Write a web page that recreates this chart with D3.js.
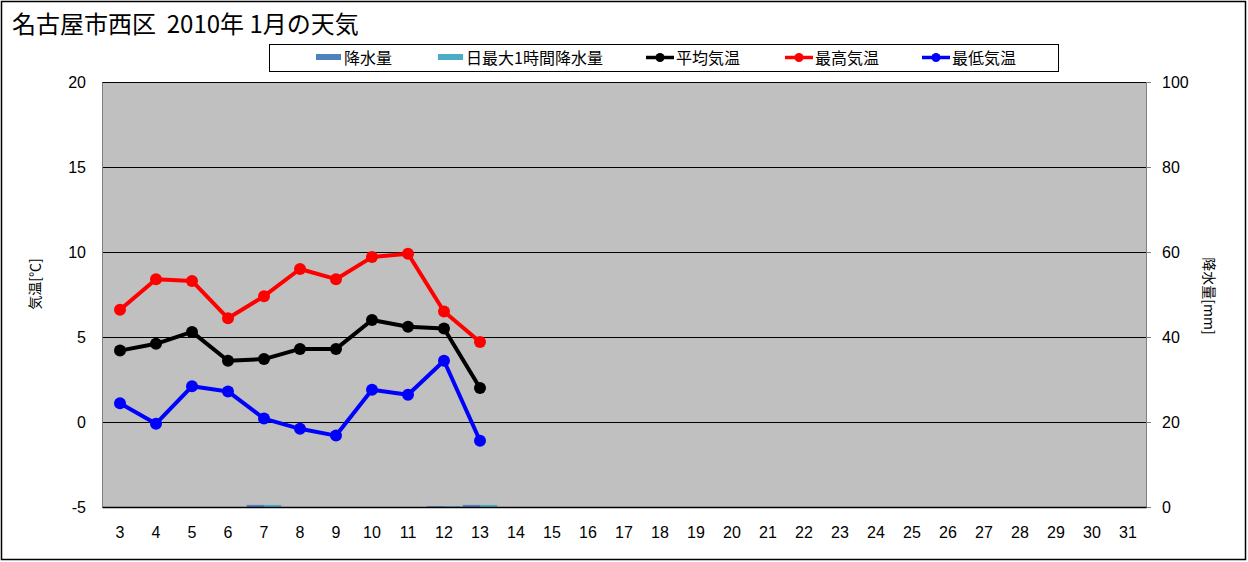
<!DOCTYPE html>
<html><head><meta charset="utf-8">
<script src="https://cdn.jsdelivr.net/npm/d3@7"></script>
<style>body{margin:0;background:#fff;}svg{display:block;font-family:"Liberation Sans",Arial,sans-serif;}</style>
</head><body>
<svg id="c" width="1248" height="562"></svg>
<script>
const days = d3.range(3, 32);
const dataDays = [3,4,5,6,7,8,9,10,11,12,13];
const tempAvg = [4.2,4.6,5.3,3.6,3.7,4.3,4.3,6.0,5.6,5.5,2.0];
const tempMax = [6.6,8.4,8.3,6.1,7.4,9.0,8.4,9.7,9.9,6.5,4.7];
const tempMin = [1.1,-0.1,2.1,1.8,0.2,-0.4,-0.8,1.9,1.6,3.6,-1.1];
const precip   = [0,0,0,0,0.5,0,0,0,0,0.2,0.5];
const precipMax1h = [0,0,0,0,0.5,0,0,0,0,0.2,0.5];
const leftTicks = [-5,0,5,10,15,20];
const rightTicks = [0,20,40,60,80,100];

const svg = d3.select("#c");
const L=102, R=1146, T=82, B=507;
const x = d3.scaleBand().domain(days).range([L,R]);
const yT = d3.scaleLinear().domain([-5,20]).range([B,T]);
const yP = d3.scaleLinear().domain([0,100]).range([B,T]);
const JP = "'Noto Sans CJK JP',sans-serif";

// outer frame
svg.append("rect").attr("x",1.5).attr("y",1.5).attr("width",1244).attr("height",558)
  .attr("fill","#fff").attr("stroke","#000").attr("stroke-width",1.5);

// plot bg
svg.append("rect").attr("x",L).attr("y",T).attr("width",R-L).attr("height",B-T).attr("fill","#c0c0c0");

// gridlines
svg.append("g").selectAll("line").data(leftTicks.filter(d=>d>-5)).join("line")
  .attr("x1",L).attr("x2",R).attr("y1",d=>Math.round(yT(d))+0.5).attr("y2",d=>Math.round(yT(d))+0.5)
  .attr("stroke","#000").attr("stroke-width",1);

// left axis
const gl = svg.append("g").attr("transform",`translate(${L},0)`)
  .call(d3.axisLeft(yT).tickValues(leftTicks).tickFormat(d=>String(d)).tickSize(0).tickPadding(16));
gl.select(".domain").attr("stroke","#808080");
gl.selectAll("text").attr("font-size",16).attr("fill","#000").attr("font-family","'Liberation Sans',Arial,sans-serif");

// right axis
const gr = svg.append("g").attr("transform",`translate(${R},0)`)
  .call(d3.axisRight(yP).tickValues(rightTicks).tickFormat(d=>String(d)).tickSize(5).tickPadding(11));
gr.select(".domain").attr("stroke","#808080");
gr.selectAll(".tick line").attr("stroke","#808080");
gr.selectAll("text").attr("font-size",16).attr("fill","#000").attr("font-family","'Liberation Sans',Arial,sans-serif");

// bars
const bw = x.bandwidth()*0.48;
const off = x.bandwidth()*0.24;
svg.append("g").selectAll("rect").data(dataDays.map((d,i)=>({d,v:precip[i]}))).join("rect")
  .attr("x",d=>x(d.d)+x.bandwidth()/2-off-bw/2).attr("width",bw)
  .attr("y",d=>yP(d.v)).attr("height",d=>B-yP(d.v)).attr("fill","#4f81bd");
svg.append("g").selectAll("rect").data(dataDays.map((d,i)=>({d,v:precipMax1h[i]}))).join("rect")
  .attr("x",d=>x(d.d)+x.bandwidth()/2+off-bw/2).attr("width",bw)
  .attr("y",d=>yP(d.v)).attr("height",d=>B-yP(d.v)).attr("fill","#4bacc6");

// bottom axis
const gb = svg.append("g").attr("transform",`translate(0,${B})`)
  .call(d3.axisBottom(x).tickSize(0).tickPadding(20));
gb.select(".domain").attr("stroke","#000").attr("stroke-width",1.5);
gb.selectAll("text").attr("font-size",16).attr("fill","#000").attr("font-family","'Liberation Sans',Arial,sans-serif");

// lines
const cx = d => x(d)+x.bandwidth()/2;
function series(vals,color){
  const pts = dataDays.map((d,i)=>[cx(d),yT(vals[i])]);
  svg.append("path").attr("d",d3.line()(pts)).attr("fill","none").attr("stroke",color).attr("stroke-width",4).attr("stroke-linejoin","round");
  svg.append("g").selectAll("circle").data(pts).join("circle")
    .attr("cx",p=>p[0]).attr("cy",p=>p[1]).attr("r",6).attr("fill",color);
}
series(tempMax,"#ff0000");
series(tempAvg,"#000000");
series(tempMin,"#0000ff");

// title
svg.append("text").attr("x",12).attr("y",33).attr("font-size",24)
  .attr("font-family",JP).style("white-space","pre").text("名古屋市西区  2010年 1月の天気");

// axis titles
svg.append("text").attr("transform","translate(34,284) rotate(-90)").attr("text-anchor","middle")
  .attr("dominant-baseline","central").attr("font-size",14).attr("font-family",JP).text("気温[℃]");
svg.append("text").attr("transform","translate(1210,296) rotate(90)").attr("text-anchor","middle")
  .attr("dominant-baseline","central").attr("font-size",14).attr("font-family",JP).text("降水量[mm]");

// legend
const lg = svg.append("g");
lg.append("rect").attr("x",269.5).attr("y",44.5).attr("width",789).attr("height",27).attr("fill","#fff").attr("stroke","#000");
const legendItems = [
  {label:"降水量", type:"bar", color:"#4f81bd", x:316},
  {label:"日最大1時間降水量", type:"bar", color:"#4bacc6", x:438},
  {label:"平均気温", type:"line", color:"#000000", x:646},
  {label:"最高気温", type:"line", color:"#ff0000", x:785},
  {label:"最低気温", type:"line", color:"#0000ff", x:922}
];
legendItems.forEach(it=>{
  if(it.type==="bar"){
    lg.append("rect").attr("x",it.x).attr("y",54).attr("width",25).attr("height",6).attr("fill",it.color);
  } else {
    lg.append("line").attr("x1",it.x).attr("x2",it.x+28).attr("y1",57.5).attr("y2",57.5).attr("stroke",it.color).attr("stroke-width",3.5);
    lg.append("circle").attr("cx",it.x+14).attr("cy",57.5).attr("r",4.5).attr("fill",it.color);
  }
  lg.append("text").attr("x",it.x+(it.type==="bar"?28:30)).attr("y",63.5).attr("font-size",16)
    .attr("font-family",JP).text(it.label);
});
</script>
</body></html>
